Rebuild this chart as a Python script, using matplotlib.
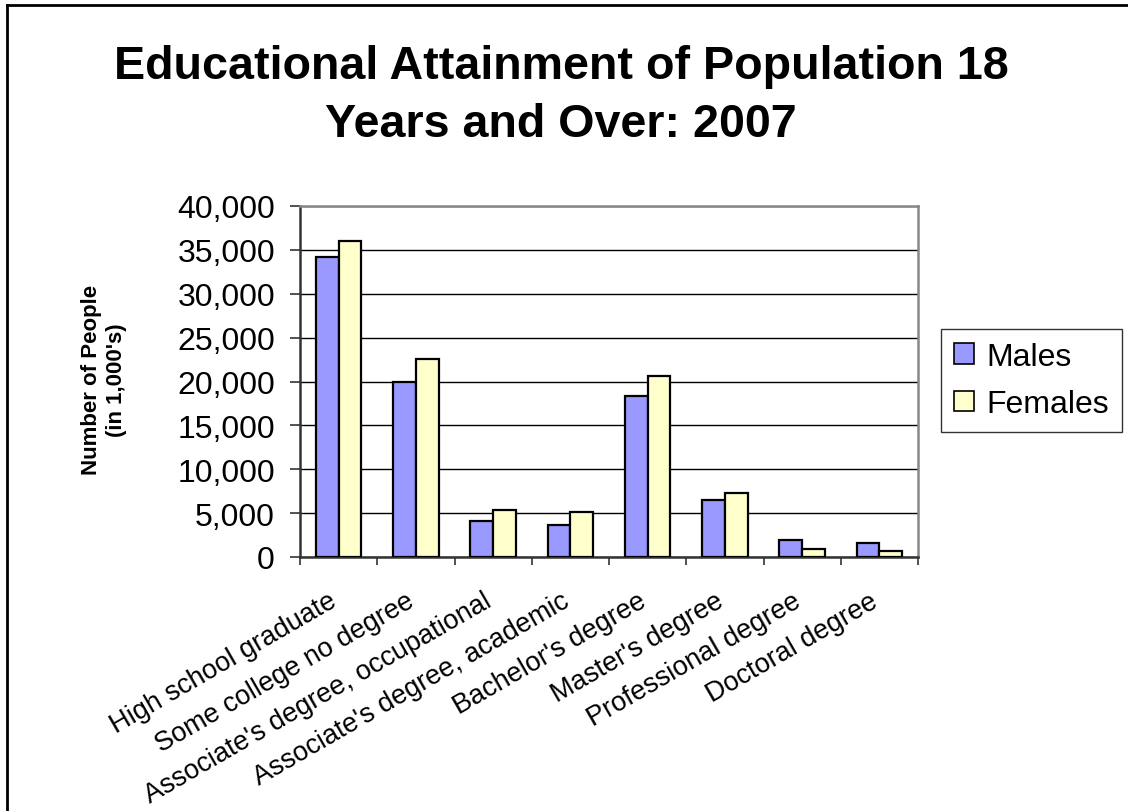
import numpy as np
import matplotlib.pyplot as plt
from matplotlib.lines import Line2D
from matplotlib.transforms import ScaledTranslation
from matplotlib.ticker import FuncFormatter, FixedLocator

categories = ['High school graduate', 'Some college no degree',
              "Associate's degree, occupational", "Associate's degree, academic",
              "Bachelor's degree", "Master's degree", 'Professional degree',
              'Doctoral degree']
males = [34200, 19900, 4100, 3600, 18400, 6500, 1900, 1650]
females = [36000, 22600, 5300, 5100, 20600, 7300, 900, 700]

plt.rcParams['font.family'] = ['Liberation Sans', 'DejaVu Sans']

W, H = 1128, 812
fig = plt.figure(figsize=(W/100, H/100), dpi=100)
ax = fig.add_axes([300/W, 1-558/H, 618/W, 351/H])

x = np.arange(len(categories))
w = 0.295
ax.bar(x - w/2, males, w, color='#9999ff', edgecolor='black', linewidth=1.6, label='Males', zorder=3)
ax.bar(x + w/2, females, w, color='#ffffcc', edgecolor='black', linewidth=1.6, label='Females', zorder=3)

ax.set_xlim(-0.5, len(categories) - 0.5)
ax.set_ylim(0, 40000)
ax.set_yticks(range(0, 40001, 5000))
ax.yaxis.set_major_formatter(FuncFormatter(lambda v, p: f'{int(v):,}'))
ax.tick_params(axis='y', labelsize=23, length=7, width=1.2, pad=11, color='#333333')
ax.grid(axis='y', color='black', linewidth=1, zorder=0)

# category labels, slanted, ending just left of each category centre
ax.set_xticks(x)
ax.set_xticklabels(categories, rotation=30, ha='right', rotation_mode='anchor', fontsize=19.5)
ax.tick_params(axis='x', which='major', length=0, pad=22)
shift = ScaledTranslation(-10/100, 0, fig.dpi_scale_trans)
for lab in ax.get_xticklabels():
    lab.set_transform(lab.get_transform() + shift)
ax.xaxis.set_minor_locator(FixedLocator(np.arange(-0.5, len(categories), 1)))
ax.tick_params(axis='x', which='minor', length=6, width=1.2, color='#333333')

for s in ['left', 'bottom']:
    ax.spines[s].set_color('#333333')
    ax.spines[s].set_linewidth(1.8)
for s in ['top', 'right']:
    ax.spines[s].set_color('#888888')
    ax.spines[s].set_linewidth(1.8)

fig.text(104/W, 1-380/H, "Number of People\n(in 1,000's)", rotation=90, ha='center', va='center',
         fontsize=16, fontweight='bold', linespacing=1.3)

fig.text(561/W, 1-45/H, 'Educational Attainment of Population 18\nYears and Over: 2007',
         ha='center', va='top', fontsize=33.6, fontweight='bold', linespacing=1.4)

leg = ax.legend(loc='upper left', bbox_to_anchor=(941/W, 1-330/H), bbox_transform=fig.transFigure,
                fontsize=23, frameon=True, fancybox=False, shadow=False,
                handlelength=0.62, handleheight=0.62, handletextpad=0.4,
                borderpad=0.4, borderaxespad=0, labelspacing=0.55)
leg.get_frame().set_edgecolor('black')
leg.get_frame().set_linewidth(1.0)
for h in leg.legend_handles:
    h.set_linewidth(1.2)

# outer chart border (only left and top edges fall inside the picture)
fig.add_artist(Line2D([7/W, 7/W], [0, 1-6/H], transform=fig.transFigure, color='black', linewidth=2))
fig.add_artist(Line2D([7/W, 1], [1-6/H, 1-6/H], transform=fig.transFigure, color='black', linewidth=2))

fig.savefig('out.png', dpi=100)
